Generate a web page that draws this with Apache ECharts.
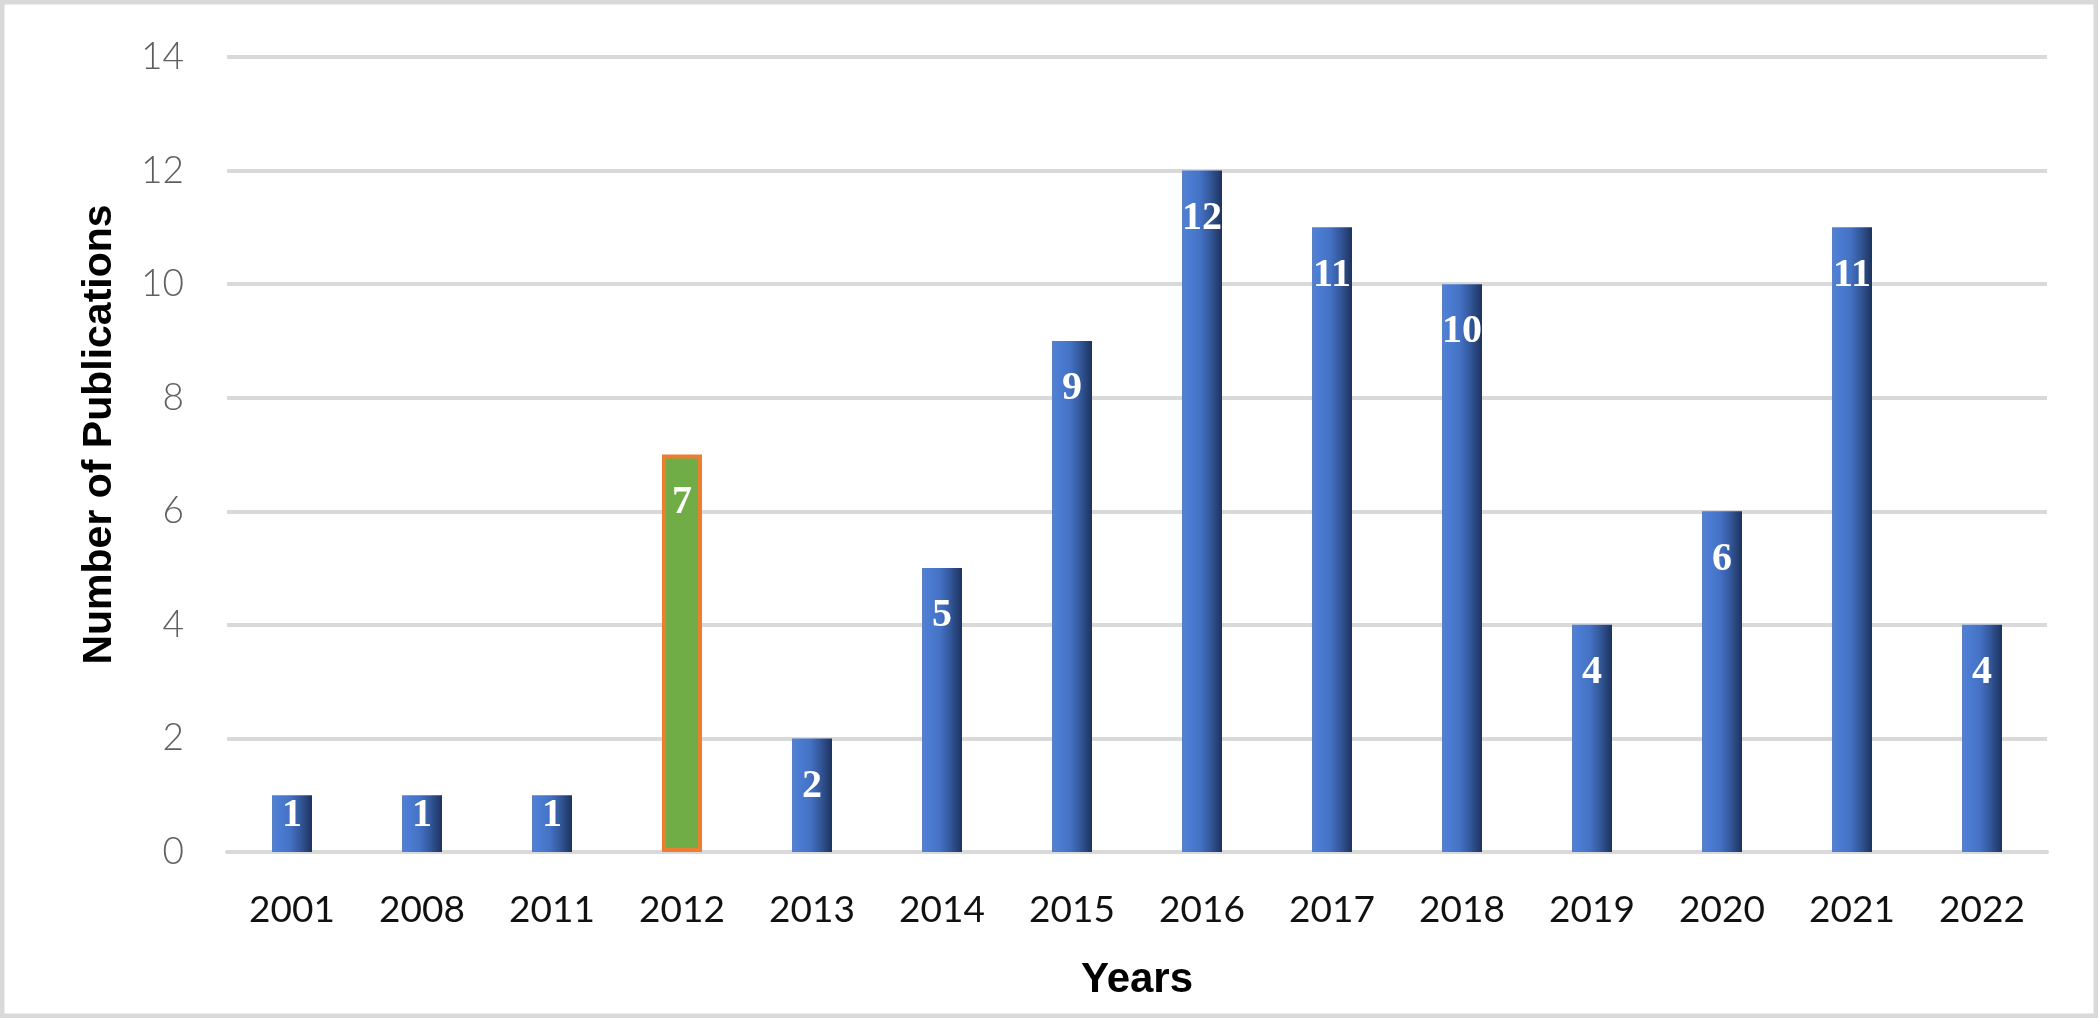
<!DOCTYPE html>
<html>
<head>
<meta charset="utf-8">
<script src="https://cdn.jsdelivr.net/npm/echarts@6/dist/echarts.min.js"></script>
<style>
html, body { margin: 0; padding: 0; background: #fff; }
#main { width: 2098px; height: 1018px; }
</style>
</head>
<body>
<div id="main"></div>
<script>
// 年份
var years = ['2001', '2008', '2011', '2012', '2013', '2014', '2015', '2016', '2017', '2018', '2019', '2020', '2021', '2022'];
// 每年的论文数量
var counts = [1, 1, 1, 7, 2, 5, 9, 12, 11, 10, 4, 6, 11, 4];
// 单独高亮的年份
var highlightYear = '2012';
// y轴刻度
var yTicks = [0, 2, 4, 6, 8, 10, 12, 14];

var blueFill = new echarts.graphic.LinearGradient(0, 0, 1, 0, [
    { offset: 0, color: '#5b7fc2' },
    { offset: 0.1, color: '#4d7fd6' },
    { offset: 0.45, color: '#4472c4' },
    { offset: 0.7, color: '#34589c' },
    { offset: 1, color: '#1c335e' }
]);

// 把数据组装成series需要的格式
var barData = [];
years.forEach(function(year, i) {
    var item = { value: counts[i] };
    if (year == highlightYear) {
        item.itemStyle = { color: '#70ad47', borderColor: '#ed7d31', borderWidth: 4 };
    }
    // 柱子太矮时标签贴着顶端
    if (counts[i] < 2) {
        item.label = { distance: 0 };
    }
    barData.push(item);
});

var myChart = echarts.init(document.getElementById('main'));

var option = {
    animation: false,
    graphic: [{
        type: 'rect',
        shape: { x: 2, y: 2, width: 2094, height: 1014 },
        style: { fill: 'none', stroke: '#d9d9d9', lineWidth: 5 },
        z: -1
    }],
    grid: {
        left: 227,
        right: 51,
        top: 57,
        bottom: 166
    },
    xAxis: {
        type: 'category',
        data: years,
        name: 'Years',
        nameLocation: 'middle',
        nameGap: 107,
        nameTextStyle: { fontFamily: 'Liberation Sans', fontWeight: 'bold', fontSize: 42, color: '#000' },
        axisLine: { lineStyle: { color: '#d9d9d9', width: 4 } },
        axisTick: { show: false },
        axisLabel: { fontFamily: '"Liberation Sans Narrow", Lato', fontSize: 37, color: '#111', margin: 40 }
    },
    yAxis: {
        type: 'value',
        min: yTicks[0],
        max: yTicks[yTicks.length - 1],
        interval: 2,
        name: 'Number of Publications',
        nameLocation: 'middle',
        nameGap: 107,
        nameTextStyle: {
            fontFamily: 'Liberation Sans', fontWeight: 'bold', fontSize: 41, color: '#000',
            padding: [0, 0, 0, 40]
        },
        axisLine: { show: false },
        axisTick: { show: false },
        axisLabel: { fontFamily: 'Lato', fontWeight: 300, fontSize: 37, color: '#5f5f5f', margin: 43 },
        splitLine: { lineStyle: { color: '#d9d9d9', width: 4 } }
    },
    series: [{
        type: 'bar',
        data: barData,
        barWidth: 40,
        itemStyle: { color: blueFill },
        label: {
            show: true,
            position: 'insideTop',
            distance: 28,
            color: '#fff',
            fontFamily: 'Liberation Serif',
            fontWeight: 'bold',
            fontSize: 40
        }
    }]
};

myChart.setOption(option);
</script>
</body>
</html>
